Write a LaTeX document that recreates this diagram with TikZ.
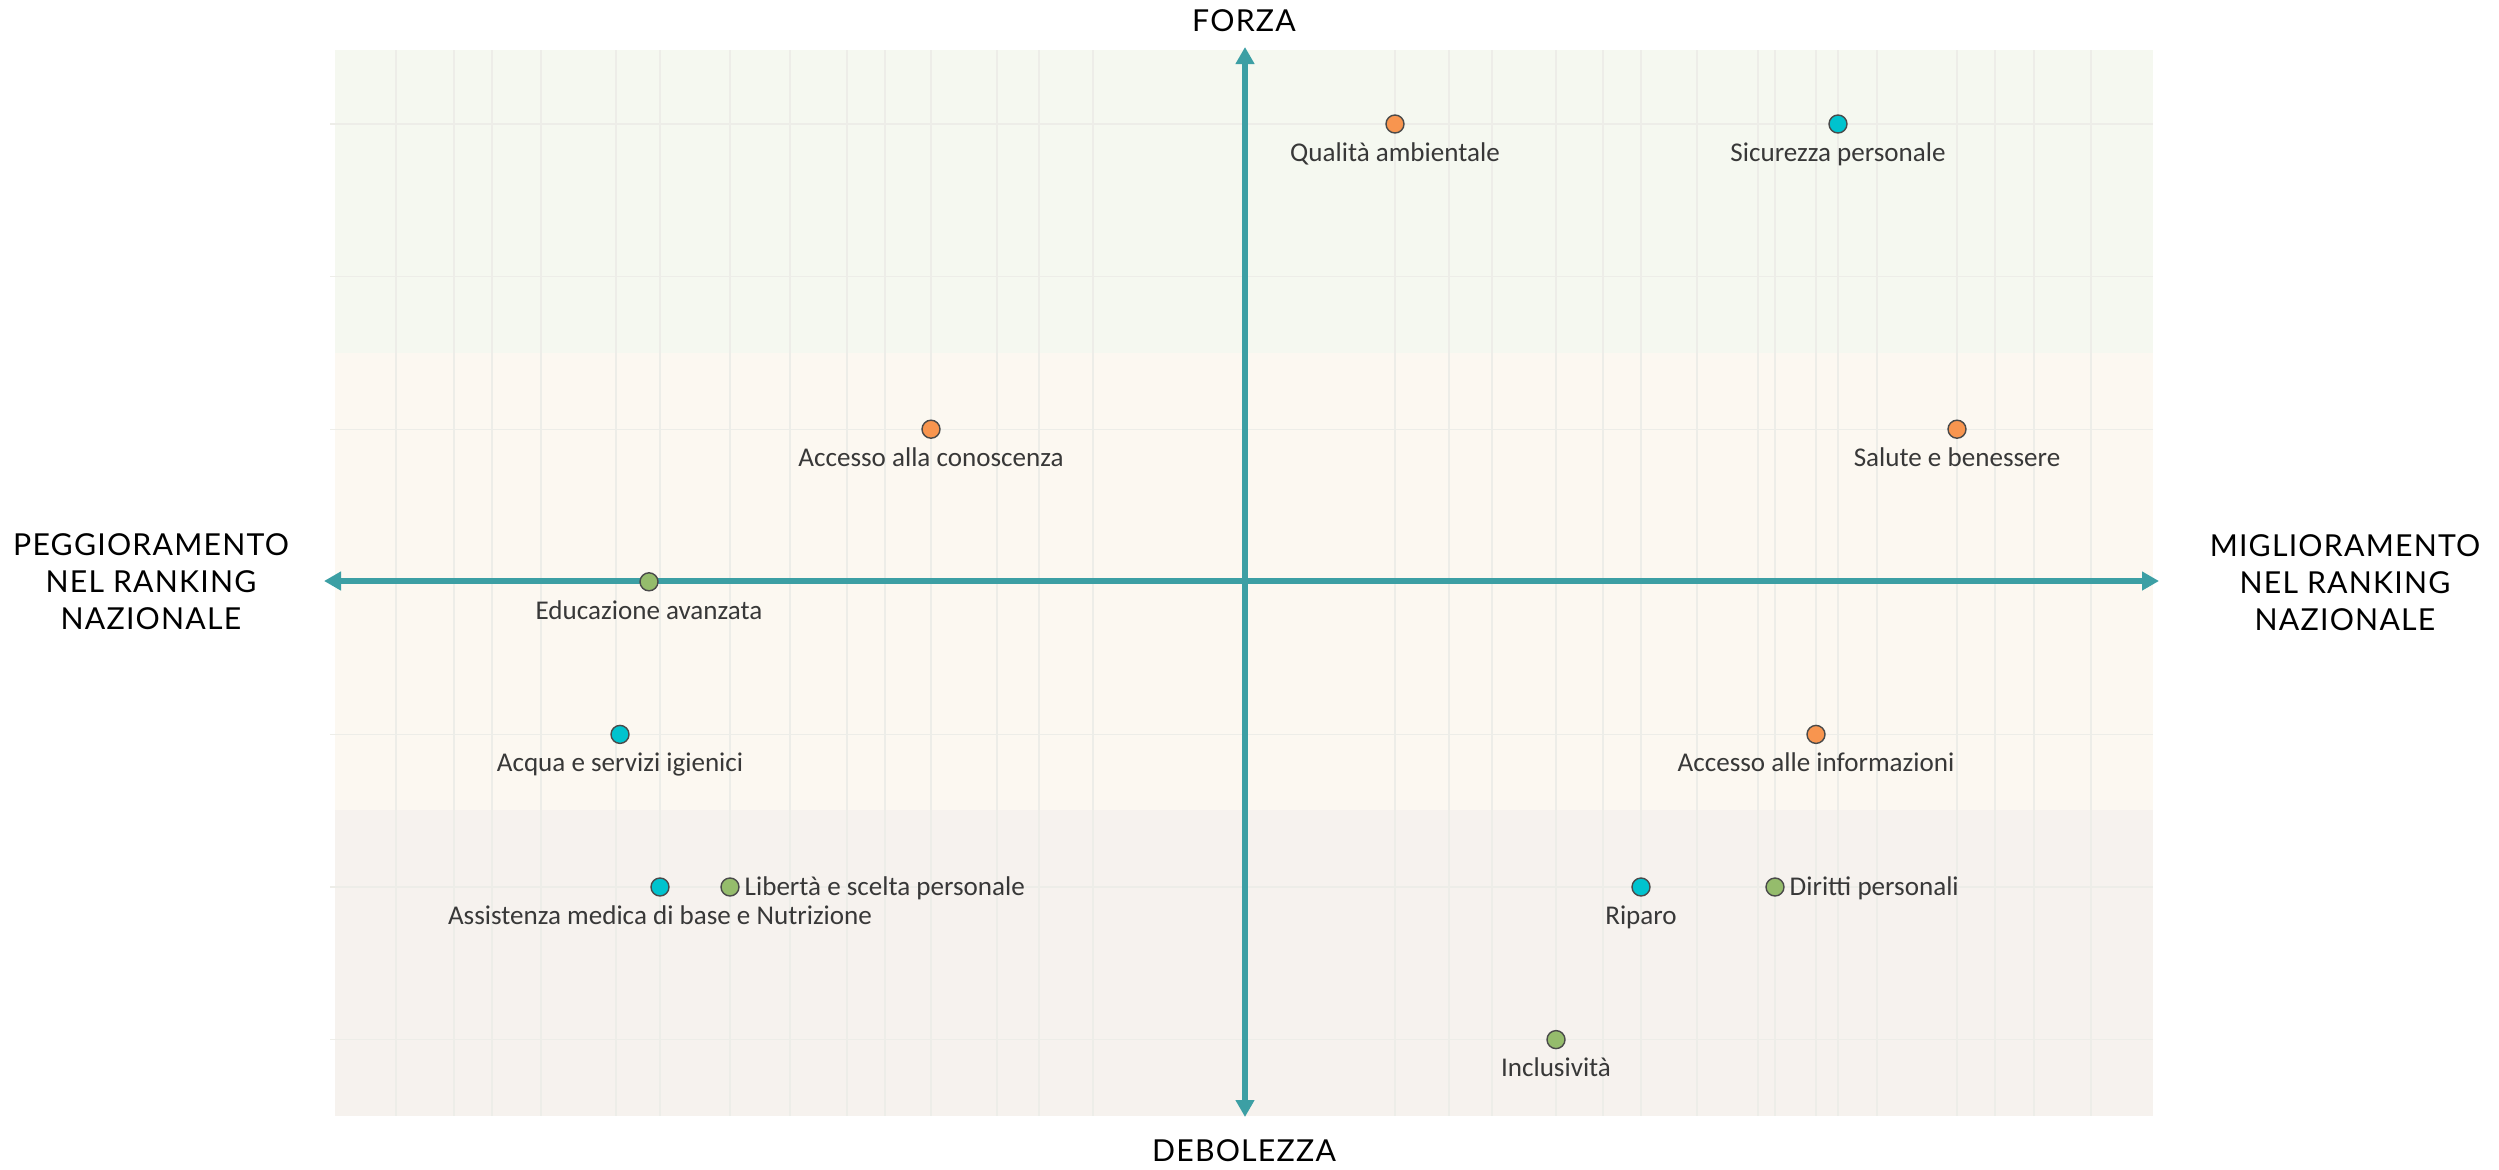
\documentclass[tikz,border=0pt]{standalone}
\usepackage{fontspec}
\setmainfont{Carlito}
\newfontfamily\titlefont[LetterSpace=4]{Lato}
\usetikzlibrary{positioning}
\usetikzlibrary{arrows.meta}

\definecolor{topband}{HTML}{F5F8F0}
\definecolor{midband}{HTML}{FCF8F1}
\definecolor{lowband}{HTML}{F6F2EE}
\definecolor{gridgray}{HTML}{EDEDE8}
\definecolor{axisteal}{HTML}{3C9FA4}
\definecolor{ptorange}{HTML}{F8954F}
\definecolor{ptcyan}{HTML}{00C3CE}
\definecolor{ptgreen}{HTML}{95BC6C}
\definecolor{dotline}{HTML}{4A4A4A}
\definecolor{lbltext}{HTML}{383838}

\begin{document}
\begin{tikzpicture}[x=0.01cm, y=-0.01cm,
   dot/.style={circle, draw=dotline, line width=0.4pt, minimum size=0.18cm, inner sep=0pt},
   lbl/.style={font=\fontsize{7.7}{9}\selectfont, text=lbltext, inner sep=0pt, text height=1.7mm, text depth=0pt},
   ttl/.style={font=\titlefont\fontsize{8.6}{10.5}\selectfont, align=center, inner sep=0pt},
   axis/.style={draw=axisteal, line width=1.55pt, {Triangle[length=0.17cm, width=0.18cm]}-{Triangle[length=0.17cm, width=0.18cm]}},
   grid line/.style={draw=gridgray, line width=0.3pt}]
\useasboundingbox (0,0) rectangle (2499,1169);

% bands
\fill[topband] (335,50) rectangle (2153,353);
\fill[midband] (335,353) rectangle (2153,810);
\fill[lowband] (335,810) rectangle (2153,1116);
\foreach \gx in {396,454,492,541,616,660,730,790,847,885,931,997,1039,1093,1395,1449,1492,1556,1603,1641,1697,1758,1775,1816,1838,1877,1957,1995,2034,2091}
   \draw[grid line] (\gx,50) -- (\gx,1116);
\foreach \gy in {124,276.6,429.2,581.8,734.4,887,1039.6}
   \draw[grid line] (330,\gy) -- (2153,\gy);

% axes
\coordinate (west end) at (324,581);
\coordinate (east end) at (2159,581);
\coordinate (north end) at (1245,47);
\coordinate (south end) at (1245,1117);
\draw[axis] (west end) -- (east end);
\draw[axis] (north end) -- (south end);

\node[ttl] (forza) at (1244,21) {FORZA};
\node[ttl] (debolezza) at (1244,1151) {DEBOLEZZA};
\node[ttl] (peggio) at (151,582) {PEGGIORAMENTO\\NEL RANKING\\NAZIONALE};
\node[ttl] (miglio) at (2345,583) {MIGLIORAMENTO\\NEL RANKING\\NAZIONALE};

% points
\node[dot, fill=ptorange] (qualita) at (1395,124) {};
\node[lbl, below=0.195cm of qualita.center] {Qualità ambientale};
\node[dot, fill=ptcyan] (sicurezza) at (1838,124) {};
\node[lbl, below=0.195cm of sicurezza.center] {Sicurezza personale};
\node[dot, fill=ptorange] (conoscenza) at (931,429.2) {};
\node[lbl, below=0.195cm of conoscenza.center] {Accesso alla conoscenza};
\node[dot, fill=ptorange] (salute) at (1957,429.2) {};
\node[lbl, below=0.195cm of salute.center] {Salute e benessere};
\node[dot, fill=ptgreen] (educazione) at (649,581.8) {};
\node[lbl, below=0.195cm of educazione.center] {Educazione avanzata};
\node[dot, fill=ptcyan] (acqua) at (620,734.4) {};
\node[lbl, below=0.195cm of acqua.center] {Acqua e servizi igienici};
\node[dot, fill=ptorange] (informazioni) at (1816,734.4) {};
\node[lbl, below=0.195cm of informazioni.center] {Accesso alle informazioni};
\node[dot, fill=ptcyan] (assistenza) at (660,887) {};
\node[lbl, below=0.195cm of assistenza.center] {Assistenza medica di base e Nutrizione};
\node[dot, fill=ptgreen] (liberta) at (730,887) {};
\node[lbl, right=0.14cm of liberta.center, anchor=west] {Libertà e scelta personale};
\node[dot, fill=ptcyan] (riparo) at (1641,887) {};
\node[lbl, below=0.195cm of riparo.center] {Riparo};
\node[dot, fill=ptgreen] (diritti) at (1775,887) {};
\node[lbl, right=0.14cm of diritti.center, anchor=west] {Diritti personali};
\node[dot, fill=ptgreen] (inclusivita) at (1556,1039.6) {};
\node[lbl, below=0.195cm of inclusivita.center] {Inclusività};
\end{tikzpicture}
\end{document}
